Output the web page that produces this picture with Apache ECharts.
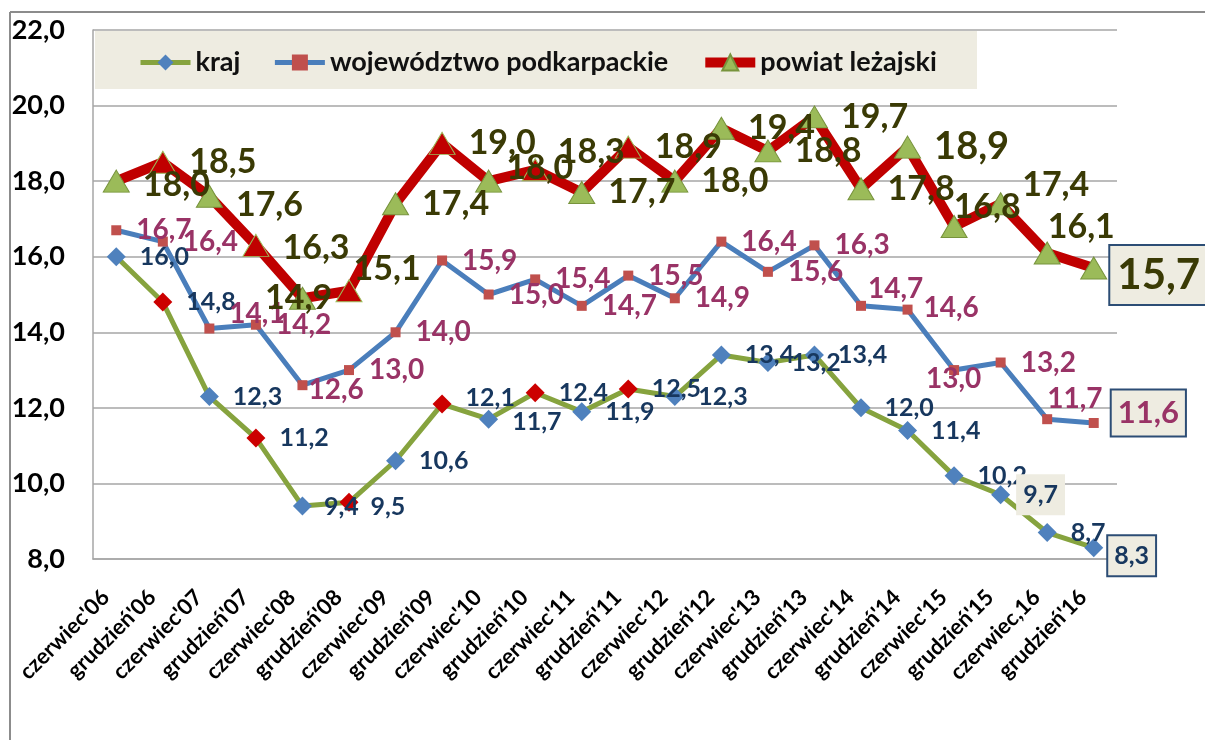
<!DOCTYPE html>
<html>
<head>
<meta charset="utf-8">
<script src="https://cdn.jsdelivr.net/npm/echarts@6/dist/echarts.min.js"></script>
<style>
  html, body { margin: 0; padding: 0; background: #fff; }
  #main { width: 1205px; height: 740px; }
</style>
</head>
<body>
<div id="main"></div>
<script>
// dane
const categories = ["czerwiec'06", "grudzień'06", "czerwiec'07", "grudzień'07", "czerwiec'08", "grudzień'08",
    "czerwiec'09", "grudzień'09", "czerwiec'10", "grudzień'10", "czerwiec'11", "grudzień'11",
    "czerwiec'12", "grudzień'12", "czerwiec'13", "grudzień'13", "czerwiec'14", "grudzień'14",
    "czerwiec'15", "grudzień'15", "czerwiec,16", "grudzień'16"]

const krajValues = [16.0, 14.8, 12.3, 11.2, 9.4, 9.5, 10.6, 12.1, 11.7, 12.4, 11.9, 12.5,
    12.3, 13.4, 13.2, 13.4, 12.0, 11.4, 10.2, 9.7, 8.7, 8.3]
const wojValues = [16.7, 16.4, 14.1, 14.2, 12.6, 13.0, 14.0, 15.9, 15.0, 15.4, 14.7, 15.5,
    14.9, 16.4, 15.6, 16.3, 14.7, 14.6, 13.0, 13.2, 11.7, 11.6]
const powiatValues = [18.0, 18.5, 17.6, 16.3, 14.9, 15.1, 17.4, 19.0, 18.0, 18.3, 17.7, 18.9,
    18.0, 19.4, 18.8, 19.7, 17.8, 18.9, 16.8, 17.4, 16.1, 15.7]

const yMin = 8
const yMax = 22
const yStep = 2

// punkty z czerwonym znacznikiem (grudzień '06 - '11)
const redIdx = [1, 3, 5, 7, 9, 11]

// przesunięcia etykiet (ręcznie, jak w oryginale)
const krajOffsets = { 4: [-2, 1], 5: [-2, 5], 7: [0, -6], 8: [0, 3], 19: [-8, 0], 21: [-9, 8] }
const wojOffsets = { 2: [0, -15], 4: [-14, 5], 16: [-13, -17], 17: [-4, -2], 18: [-48, 9], 20: [-20, -20], 21: [-2, -10] }
const powiatOffsets = { 0: [0, 4], 2: [0, 9], 3: [0, 3], 4: [-64, 0], 5: [-22, -22], 8: [-9, -13], 9: [-4, -18],
    18: [-27, -19], 19: [-5, -19], 20: [-26, -26], 21: [-10, 7] }

const FONT = 'Lato'
const fmt = v => v.toFixed(1).replace('.', ',')

const boxLabel = {
    backgroundColor: '#EEECE1',
    borderColor: '#2C4D75',
    borderWidth: 2,
    padding: [6, 6, 4, 6]
}

const chart = echarts.init(document.getElementById('main'))

const krajData = krajValues.map((v, i) => {
    const item = { value: v, label: { offset: krajOffsets[i] || [0, 0] } }
    if (redIdx.includes(i)) item.itemStyle = { color: '#CC0000' }
    if (i === 19) Object.assign(item.label, { backgroundColor: '#EEECE1', padding: [9, 7, 7, 7] })
    if (i === 21) Object.assign(item.label, boxLabel, { padding: [8, 6, 6, 6] })
    return item
})

const wojData = wojValues.map((v, i) => {
    const item = { value: v, label: { offset: wojOffsets[i] || [0, 0] } }
    if (i === 21) Object.assign(item.label, boxLabel, { fontSize: 31, padding: [8, 6, 6, 6] })
    return item
})

const powiatData = powiatValues.map((v, i) => {
    const item = { value: v, label: { offset: powiatOffsets[i] || [0, 0] } }
    if (redIdx.includes(i)) item.itemStyle = { color: '#C00000', borderColor: '#9BBB59' }
    if (i === 17) item.label.fontSize = 38
    if (i === 21) Object.assign(item.label, boxLabel, { fontSize: 42, padding: [10, 7, 6, 7] })
    return item
})

const option = {
    animation: false,
    backgroundColor: '#fff',
    textStyle: { fontFamily: FONT },
    graphic: [
        // ramka wykresu
        { type: 'line', shape: { x1: 10, y1: 12, x2: 1205, y2: 12 }, style: { stroke: '#8C8C8C', lineWidth: 2 } },
        { type: 'line', shape: { x1: 10, y1: 12, x2: 10, y2: 740 }, style: { stroke: '#8C8C8C', lineWidth: 2 } },
        // tło legendy
        { type: 'rect', shape: { x: 95, y: 31, width: 882, height: 58 }, style: { fill: '#EEECE1' }, z: 1 }
    ],
    legend: {
        left: 133,
        top: 44,
        itemWidth: 50,
        itemHeight: 20,
        itemGap: 32,
        z: 5,
        textStyle: { fontFamily: FONT, fontWeight: 'bold', fontSize: 27, color: '#111' },
        data: [
            { name: 'kraj', lineStyle: { width: 5 } },
            { name: 'województwo podkarpackie', lineStyle: { width: 5 } },
            { name: 'powiat leżajski', lineStyle: { width: 10 } }
        ]
    },
    grid: { left: 93, right: 88, top: 30, bottom: 181 },
    xAxis: {
        type: 'category',
        data: categories,
        boundaryGap: true,
        axisLine: { lineStyle: { color: '#A6A6A6', width: 1.5 } },
        axisTick: { show: false },
        axisLabel: {
            rotate: 45,
            interval: 0,
            margin: 24,
            padding: [0, 15, 0, 0],
            fontFamily: FONT,
            fontWeight: 'bold',
            fontSize: 22,
            color: '#000'
        }
    },
    yAxis: {
        type: 'value',
        min: yMin,
        max: yMax,
        interval: yStep,
        axisLine: { show: true, lineStyle: { color: '#A6A6A6', width: 1.5 } },
        axisTick: { show: false },
        splitLine: { lineStyle: { color: '#A6A6A6', width: 1.5 } },
        axisLabel: {
            margin: 28,
            fontFamily: FONT,
            fontWeight: 'bold',
            fontSize: 27,
            color: '#000',
            formatter: v => fmt(v)
        }
    },
    series: [
        {
            name: 'kraj',
            type: 'line',
            data: krajData,
            z: 3,
            symbol: 'diamond',
            symbolSize: 19,
            lineStyle: { color: '#86A33E', width: 5 },
            itemStyle: { color: '#4F81BD' },
            label: {
                show: true,
                position: 'right',
                distance: 14,
                formatter: p => fmt(p.value),
                fontFamily: FONT,
                fontWeight: 'bold',
                fontSize: 25,
                color: '#17375E'
            }
        },
        {
            name: 'województwo podkarpackie',
            type: 'line',
            data: wojData,
            z: 3,
            symbol: 'rect',
            symbolSize: 10,
            lineStyle: { color: '#4A7EBB', width: 5 },
            itemStyle: { color: '#C0504D' },
            label: {
                show: true,
                position: 'right',
                distance: 15,
                formatter: p => fmt(p.value),
                fontFamily: FONT,
                fontWeight: 'bold',
                fontSize: 28,
                color: '#993366'
            }
        },
        {
            name: 'powiat leżajski',
            type: 'line',
            data: powiatData,
            z: 4,
            symbol: 'triangle',
            symbolSize: [26, 22],
            lineStyle: { color: '#C00000', width: 10 },
            itemStyle: { color: '#9BBB59', borderColor: '#77933C', borderWidth: 1 },
            label: {
                show: true,
                position: 'right',
                distance: 13,
                formatter: p => fmt(p.value),
                fontFamily: FONT,
                fontWeight: 'bold',
                fontSize: 34,
                color: '#3A3A05'
            }
        }
    ]
}

chart.setOption(option)
</script>
</body>
</html>
